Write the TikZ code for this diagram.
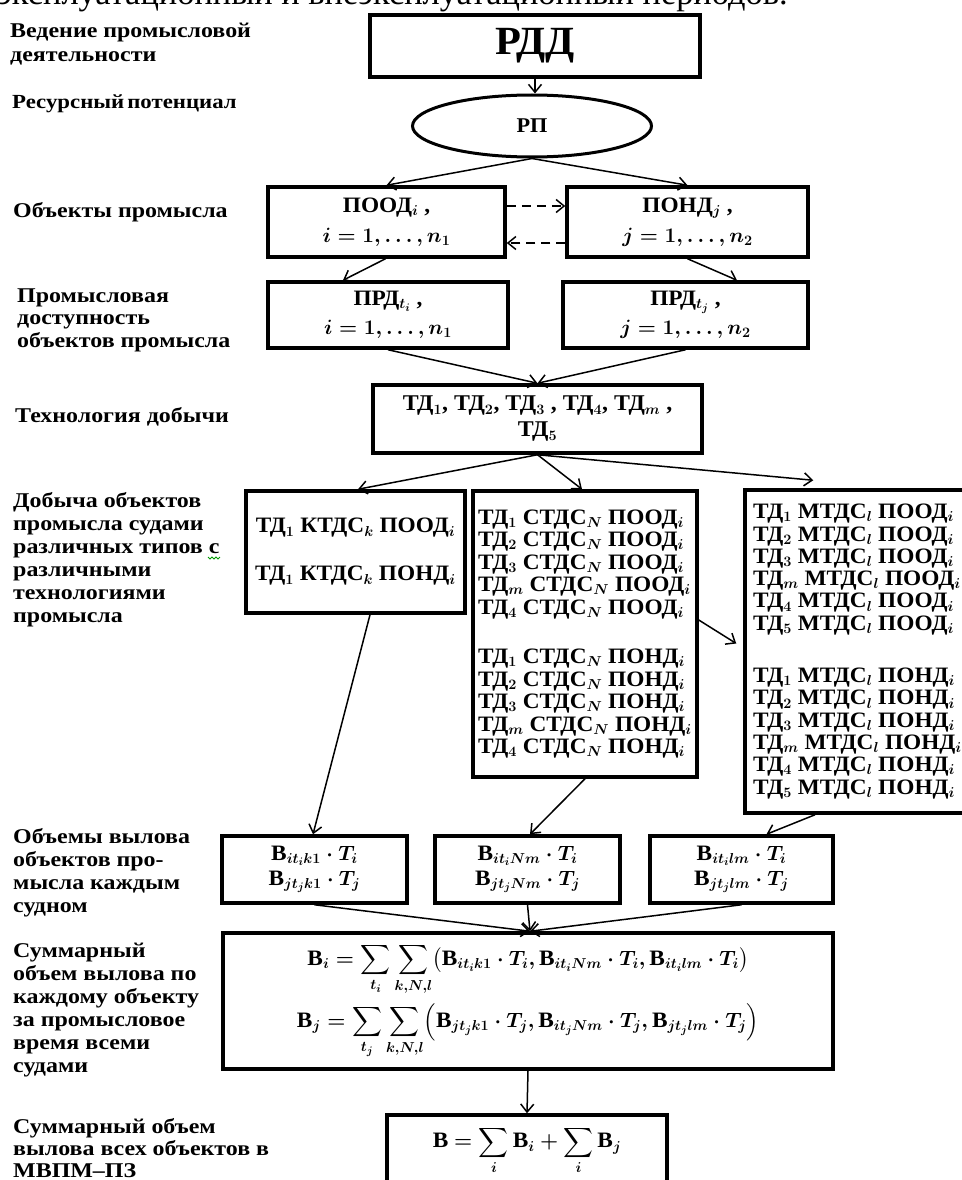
\documentclass[tikz,border=0pt]{standalone}
\usepackage{amsmath}
\usepackage{fontspec}
\setmainfont{Liberation Serif}
\newfontfamily\lblf{Liberation Serif}[FakeStretch=1.14]
\newfontfamily\bxf{Liberation Serif}[FakeStretch=1.06]
\usetikzlibrary{arrows.meta,shapes.geometric}

\tikzset{
  box/.style={draw, line width=3.5pt, inner sep=0pt, align=center},
  bxfont/.style={font=\bxf\bfseries\boldmath\fontsize{22}{#1}\selectfont},
  % captions are anchored at the baseline of their last line
  lbl/.style={anchor=base west, inner sep=0pt, align=left,
    font=\lblf\bfseries\fontsize{21}{23}\selectfont},
  conn/.style={line width=1.5pt, -{Straight Barb[length=8pt,width=13pt]}},
  dconn/.style={conn, dash pattern=on 9pt off 6pt},
}

\begin{document}
\begin{tikzpicture}[x=1pt,y=-1pt]
\useasboundingbox (0,0) rectangle (961,1180);

% running text of the page above the scheme
\node[anchor=base west, inner sep=0pt, font=\fontsize{34.4}{34}\selectfont] (head) at (-3,5)
  {эксплуатационный и внеэксплуатационный периодов.};

% ---- left-hand captions of the levels
\node[lbl, font=\lblf\bfseries\fontsize{21}{24}\selectfont] (l1) at (10,62) {Ведение промысловой\\деятельности};
\node[lbl, font=\lblf\bfseries\fontsize{20}{23}\selectfont] (l2) at (12,109) {Ресурсный\hspace{3pt}потенциал};
\node[lbl] (l3) at (13,217) {Объекты промысла};
\node[lbl, font=\lblf\bfseries\fontsize{21}{22.5}\selectfont] (l4) at (17,347) {Промысловая\\доступность\\объектов промысла};
\node[lbl] (l5) at (15,422) {Технология добычи};
\node[lbl] (l6) at (13,622) {Добыча объектов\\промысла судами\\различных типов с\\различными\\технологиями\\промысла};
\node[lbl] (l7) at (13,912) {Объемы вылова\\объектов про-\\мысла каждым\\судном};
\node[lbl] (l8) at (13,1072) {Суммарный\\объем вылова по\\каждому объекту\\за промысловое\\время всеми\\судами};
\node[lbl, font=\lblf\bfseries\fontsize{21}{22}\selectfont] (l9) at (13,1177) {Суммарный объем\\вылова всех объектов в\\МВПМ–ПЗ};
% spelling mark under the preposition
\draw[green!60!black, line width=0.9pt] (208,557) -- (210,559) -- (212,557) -- (214,559) -- (216,557) -- (218,559) -- (220,557);

% ---- scheme
\node[box, minimum width=330pt, minimum height=62pt,
  font=\bxf\bfseries\fontsize{40}{44}\selectfont] (rdd) at (535,46) {РДД};
\node[box, ellipse, line width=3pt, minimum width=239pt, minimum height=62pt,
  font=\bxf\bfseries\fontsize{21}{24}\selectfont] (rp) at (532,126) {РП};

\node[box, bxfont=30, minimum width=237pt, minimum height=70pt] (pood) at (386.5,222)
  {ПООД$_i$ ,\\$i = 1, \ldots , n_1$};
\node[box, bxfont=30, minimum width=241pt, minimum height=70pt] (pond) at (687.5,222)
  {ПОНД$_j$ ,\\$j = 1, \ldots , n_2$};

\node[box, bxfont=29, minimum width=240pt, minimum height=66pt] (prdi) at (388,315)
  {ПРД$_{t_i}$ ,\\$i = 1, \ldots , n_1$};
\node[box, bxfont=29, minimum width=245pt, minimum height=66pt] (prdj) at (685.5,315)
  {ПРД$_{t_j}$ ,\\$j = 1, \ldots , n_2$};

\node[box, minimum width=329pt, minimum height=68pt,
  font=\bxf\bfseries\boldmath\fontsize{22.5}{26}\selectfont] (td) at (537.5,419)
  {ТД$_1$, ТД$_2$, ТД$_3$ , ТД$_4$, ТД$_m$ ,\\ТД$_5$};

\node[box, bxfont=48, minimum width=219pt, minimum height=122pt] (ktds) at (355.5,552)
  {ТД$_1$ КТДС$_k$ ПООД$_i$\\ТД$_1$ КТДС$_k$ ПОНД$_i$};

\node[box, bxfont=22.5, align=left, minimum width=224pt, minimum height=286pt] (stds) at (585,634)
  {ТД$_1$ СТДС$_N$ ПООД$_i$\\
   ТД$_2$ СТДС$_N$ ПООД$_i$\\
   ТД$_3$ СТДС$_N$ ПООД$_i$\\
   ТД$_m$ СТДС$_N$ ПООД$_i$\\
   ТД$_4$ СТДС$_N$ ПООД$_i$\\[27pt]
   ТД$_1$ СТДС$_N$ ПОНД$_i$\\
   ТД$_2$ СТДС$_N$ ПОНД$_i$\\
   ТД$_3$ СТДС$_N$ ПОНД$_i$\\
   ТД$_m$ СТДС$_N$ ПОНД$_i$\\
   ТД$_4$ СТДС$_N$ ПОНД$_i$};

\node[box, bxfont=22.3, align=left, minimum width=225pt, minimum height=323pt] (mtds) at (857.5,651.5)
  {ТД$_1$ МТДС$_l$ ПООД$_i$\\
   ТД$_2$ МТДС$_l$ ПООД$_i$\\
   ТД$_3$ МТДС$_l$ ПООД$_i$\\
   ТД$_m$ МТДС$_l$ ПООД$_i$\\
   ТД$_4$ МТДС$_l$ ПООД$_i$\\
   ТД$_5$ МТДС$_l$ ПООД$_i$\\[30pt]
   ТД$_1$ МТДС$_l$ ПОНД$_i$\\
   ТД$_2$ МТДС$_l$ ПОНД$_i$\\
   ТД$_3$ МТДС$_l$ ПОНД$_i$\\
   ТД$_m$ МТДС$_l$ ПОНД$_i$\\
   ТД$_4$ МТДС$_l$ ПОНД$_i$\\
   ТД$_5$ МТДС$_l$ ПОНД$_i$};

\node[box, bxfont=25, minimum width=185pt, minimum height=67pt] (v1) at (314.5,869.5)
  {В$_{it_ik1}\cdot T_i$\\В$_{jt_jk1}\cdot T_j$};
\node[box, bxfont=25, minimum width=185pt, minimum height=67pt] (v2) at (527.5,869.5)
  {В$_{it_iNm}\cdot T_i$\\В$_{jt_jNm}\cdot T_j$};
\node[box, bxfont=25, minimum width=183pt, minimum height=67pt] (v3) at (741.5,869.5)
  {В$_{it_ilm}\cdot T_i$\\В$_{jt_jlm}\cdot T_j$};

\node[box, bxfont=58, minimum width=610pt, minimum height=136pt] (sum) at (528,1001)
  {В$_i = \displaystyle\sum_{t_i}\sum_{k,N,l}\bigl(\text{В}_{it_ik1}\cdot T_i, \text{В}_{it_iNm}\cdot T_i, \text{В}_{it_ilm}\cdot T_i\bigr)$\\[4pt]
   В$_j = \displaystyle\sum_{t_j}\sum_{k,N,l}\Bigl(\text{В}_{jt_jk1}\cdot T_j, \text{В}_{it_jNm}\cdot T_j, \text{В}_{jt_jlm}\cdot T_j\Bigr)$};

\node[box, bxfont=25, minimum width=280pt, minimum height=71pt] (total) at (527,1150.5)
  {В $= \displaystyle\sum_i \text{В}_i + \sum_i \text{В}_j$};

% ---- connectors
\draw[conn] (rdd.south) -- (rdd.south |- rp.north);
\draw[conn] (rp.south) -- (pood.north);
\draw[conn] (rp.south) -- (pond.north);
\draw[dconn] ([yshift=16pt]pood.east) -- ([yshift=16pt]pond.west);
\draw[dconn] ([yshift=-21pt]pond.west) -- ([yshift=-21pt]pood.east);
\draw[conn] ([xshift=-1pt]pood.south) -- ([xshift=-45pt]prdi.north);
\draw[conn] (pond.south) -- ([xshift=51.5pt]prdj.north);
\draw[conn] (prdi.south) -- (td.north);
\draw[conn] (prdj.south) -- (td.north);
\draw[conn] (td.south) -- ([xshift=2.5pt]ktds.north);
\draw[conn] (td.south) -- ([xshift=-3pt]stds.north);
\draw[conn] (td.south) -- ([xshift=70pt,yshift=8pt]mtds.north west);
\draw[conn] ([yshift=14pt]stds.east) -- ([xshift=-7pt,yshift=8pt]mtds.west);
\draw[conn] ([xshift=14.5pt]ktds.south) -- ([xshift=-1.5pt]v1.north);
\draw[conn] (stds.south) -- ([xshift=2.5pt]v2.north);
\draw[conn] ([xshift=-42.5pt]mtds.south) -- ([xshift=25pt]v3.north);
\draw[conn] (v1.south) -- ([xshift=2pt]sum.north);
\draw[conn] (v2.south) -- ([xshift=2pt]sum.north);
\draw[conn] (v3.south) -- ([xshift=2pt]sum.north);
\draw[conn] (sum.south) -- (total.north);
\end{tikzpicture}
\end{document}
